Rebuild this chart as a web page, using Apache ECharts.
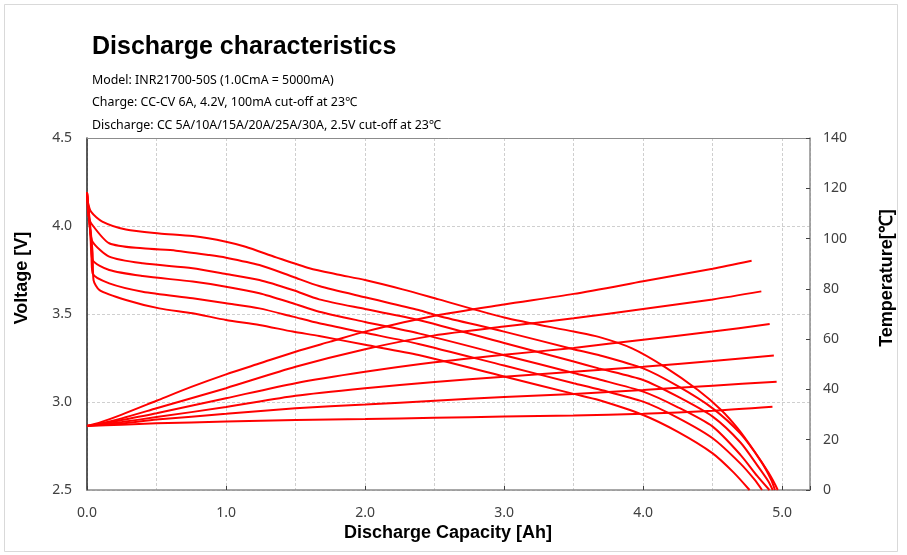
<!DOCTYPE html>
<html>
<head>
<meta charset="utf-8">
<script src="https://cdn.jsdelivr.net/npm/echarts@6/dist/echarts.min.js"></script>
<style>
html,body{margin:0;padding:0;background:#fff;}
#chart{width:907px;height:555px;}
</style>
</head>
<body>
<div id="chart"></div>
<script>
// ---- Data ----
const titleText = 'Discharge characteristics';
const infoLines = [
  'Model: INR21700-50S (1.0CmA = 5000mA)',
  'Charge: CC-CV 6A, 4.2V, 100mA cut-off at 23\u2103',
  'Discharge: CC 5A/10A/15A/20A/25A/30A, 2.5V cut-off at 23\u2103'
];
const xAxisName = 'Discharge Capacity [Ah]';
const yLeftName = 'Voltage [V]';
const yRightName = 'Temperature[\u2103]';

// Voltage curves [capacity Ah, voltage V]
const volt5A = [[0,4.19],[0.005,4.14],[0.03,4.08],[0.11,4.025],[0.28,3.98],[0.52,3.958],[0.76,3.943],[1.0,3.911],[1.14,3.882],[1.36,3.822],[1.6,3.76],[1.8,3.725],[2.0,3.693],[2.27,3.64],[2.53,3.583],[3.0,3.48],[3.5,3.40],[3.68,3.37],[3.92,3.305],[4.155,3.20],[4.394,3.068],[4.561,2.955],[4.68,2.85],[4.8,2.72],[4.9,2.6],[4.95,2.53],[4.968,2.5]];
const volt10A = [[0,4.19],[0.01,4.06],[0.03,4.015],[0.16,3.902],[0.4,3.873],[0.64,3.86],[0.88,3.835],[1.0,3.82],[1.24,3.778],[1.48,3.712],[1.67,3.659],[2.0,3.595],[2.385,3.523],[2.53,3.489],[3.0,3.40],[3.5,3.30],[3.68,3.267],[4.0,3.191],[4.25,3.09],[4.5,2.964],[4.7,2.82],[4.85,2.66],[4.92,2.56],[4.948,2.5]];
const volt15A = [[0,4.19],[0.02,4.0],[0.04,3.911],[0.16,3.826],[0.4,3.788],[0.76,3.76],[1.0,3.727],[1.24,3.693],[1.48,3.636],[1.67,3.583],[2.0,3.528],[2.385,3.466],[3.0,3.335],[3.5,3.23],[3.68,3.191],[4.0,3.125],[4.25,3.03],[4.5,2.917],[4.7,2.77],[4.83,2.63],[4.9,2.55],[4.932,2.5]];
const volt20A = [[0,4.19],[0.025,3.95],[0.04,3.807],[0.16,3.75],[0.4,3.716],[0.76,3.684],[1.0,3.655],[1.24,3.618],[1.48,3.561],[1.67,3.513],[2.0,3.455],[2.385,3.39],[3.0,3.266],[3.5,3.165],[3.68,3.129],[4.0,3.059],[4.25,2.97],[4.5,2.86],[4.7,2.70],[4.82,2.58],[4.908,2.5]];
const volt25A = [[0,4.19],[0.03,3.9],[0.04,3.731],[0.16,3.674],[0.4,3.627],[0.76,3.589],[1.0,3.561],[1.24,3.532],[1.48,3.485],[1.67,3.447],[2.0,3.393],[2.385,3.33],[3.0,3.207],[3.5,3.107],[3.68,3.072],[4.0,3.002],[4.25,2.91],[4.5,2.794],[4.7,2.65],[4.8,2.56],[4.855,2.5]];
const volt30A = [[0,4.19],[0.04,3.85],[0.047,3.693],[0.09,3.636],[0.28,3.58],[0.52,3.532],[0.76,3.504],[1.0,3.466],[1.24,3.438],[1.48,3.40],[1.67,3.375],[2.0,3.325],[2.385,3.267],[3.0,3.145],[3.5,3.046],[3.68,3.011],[4.0,2.926],[4.25,2.83],[4.5,2.708],[4.65,2.60],[4.765,2.5]];

// Temperature curves [capacity Ah, temperature C]
const temp30A = [[0,25.5],[0.1,27],[0.25,30],[0.5,35.5],[0.75,41],[1.0,46],[1.25,50.5],[1.5,55],[1.75,59],[2.0,63],[2.5,69.3],[3.0,73.8],[3.5,78],[4.0,83],[4.5,88],[4.78,91.2]];
const temp25A = [[0,25.5],[0.1,26.5],[0.25,28.5],[0.5,32.5],[0.75,36.5],[1.0,40.5],[1.5,49],[2.0,56],[2.5,61.5],[3.0,65],[3.5,68.3],[4.0,72],[4.5,75.8],[4.85,79]];
const temp20A = [[0,25.5],[0.1,26.3],[0.25,27.8],[0.5,30.5],[1.0,36.5],[1.5,42.5],[2.0,47],[2.5,50.8],[3.0,53.8],[3.5,56.5],[4.0,59.8],[4.5,63],[4.91,66]];
const temp15A = [[0,25.5],[0.1,26],[0.25,27],[0.5,29],[1.0,33],[1.5,37.5],[2.0,40.5],[2.5,43],[3.0,45],[3.5,47],[4.0,49],[4.5,51.3],[4.94,53.5]];
const temp10A = [[0,25.5],[0.25,26.5],[0.5,28],[1.0,30.3],[1.5,32.5],[2.0,34],[2.5,35.5],[3.0,37],[3.5,38.2],[4.0,39.8],[4.5,41.5],[4.96,43.1]];
const temp5A = [[0,25.5],[0.25,26],[0.5,26.5],[1.0,27.2],[1.5,27.8],[2.0,28.2],[2.5,28.7],[3.0,29.2],[3.5,29.6],[4.0,30.3],[4.5,31.5],[4.93,33.1]];

const voltageSeries = [volt5A, volt10A, volt15A, volt20A, volt25A, volt30A];
const temperatureSeries = [temp5A, temp10A, temp15A, temp20A, temp25A, temp30A];

// ---- Chart ----
const chart = echarts.init(document.getElementById('chart'), null, {renderer: 'canvas'});
const RED = '#ff0000';
const tickFont = '"Noto Sans", "Liberation Sans", sans-serif';
const titleFont = '"Liberation Sans", Arial, sans-serif';
const infoFont = '12.4px "Noto Sans", sans-serif';
const nameFontCss = 'bold 18px "Liberation Sans", Arial, sans-serif';

function lineSeries(data, yIdx) {
  return {
    type: 'line', data: data, xAxisIndex: 0, yAxisIndex: yIdx,
    showSymbol: false, symbol: 'none', smooth: 0.25,
    lineStyle: {color: RED, width: 2}, itemStyle: {color: RED},
    silent: true, z: 3
  };
}

const series = [];
voltageSeries.forEach(d => series.push(lineSeries(d, 0)));
temperatureSeries.forEach(d => series.push(lineSeries(d, 1)));

chart.setOption({
  animation: false,
  backgroundColor: '#fff',
  title: {
    text: titleText, left: 87, top: 30,
    textStyle: {fontFamily: titleFont, fontSize: 25, fontWeight: 'bold', color: '#000'}
  },
  graphic: [
    {type: 'rect', shape: {x: 4.5, y: 4.5, width: 893, height: 547}, style: {fill: 'none', stroke: '#d9d9d9', lineWidth: 1}, silent: true},
    {type: 'text', left: 92, top: 74, style: {text: infoLines[0], font: infoFont, fill: '#000'}},
    {type: 'text', left: 92, top: 96, style: {text: infoLines[1], font: infoFont, fill: '#000'}},
    {type: 'text', left: 92, top: 119, style: {text: infoLines[2], font: infoFont, fill: '#000'}},
    {type: 'text', x: 448, y: 533, style: {text: xAxisName, font: nameFontCss, fill: '#000', align: 'center', verticalAlign: 'middle'}},
    {type: 'text', x: 22, y: 278, rotation: Math.PI / 2, style: {text: yLeftName, font: nameFontCss, fill: '#000', align: 'center', verticalAlign: 'middle'}},
    {type: 'text', x: 887, y: 278, rotation: Math.PI / 2, style: {text: yRightName, font: nameFontCss, fill: '#000', align: 'center', verticalAlign: 'middle'}}
  ],
  grid: {left: 87, right: 97, top: 138, bottom: 65},
  xAxis: [
    {
      type: 'value', min: 0, max: 5.2, interval: 1, position: 'bottom',
      axisLine: {show: true, onZero: false, lineStyle: {color: '#8c8c8c', width: 1.5}},
      axisTick: {show: true, inside: true, length: 4, lineStyle: {color: '#404040'}},
      axisLabel: {formatter: v => (Math.abs(v - Math.round(v)) < 1e-9 ? v.toFixed(1) : ''), margin: 16, fontSize: 14, color: '#404040', fontFamily: tickFont},
      splitLine: {show: false}
    },
    {
      type: 'value', min: 0, max: 5.2, interval: 0.5, position: 'top',
      axisLine: {show: true, onZero: false, lineStyle: {color: '#8c8c8c', width: 1}},
      axisTick: {show: false}, axisLabel: {show: false},
      splitLine: {show: true, lineStyle: {color: '#cfcfcf', type: [3, 2], width: 1}}
    }
  ],
  yAxis: [
    {
      type: 'value', min: 2.5, max: 4.5, interval: 0.5, position: 'left',
      axisLine: {show: true, onZero: false, lineStyle: {color: '#262626', width: 1.5}},
      axisTick: {show: false},
      axisLabel: {formatter: v => v.toFixed(1), margin: 15, fontSize: 14, color: '#404040', fontFamily: tickFont},
      splitLine: {show: true, lineStyle: {color: '#cfcfcf', type: [3, 2], width: 1}}
    },
    {
      type: 'value', min: 0, max: 140, interval: 20, position: 'right',
      axisLine: {show: true, onZero: false, lineStyle: {color: '#8c8c8c', width: 1.5}},
      axisTick: {show: true, inside: true, length: 4, lineStyle: {color: '#404040'}},
      axisLabel: {margin: 13, fontSize: 14, color: '#404040', fontFamily: tickFont},
      splitLine: {show: false}
    }
  ],
  series: series
});
</script>
</body>
</html>
